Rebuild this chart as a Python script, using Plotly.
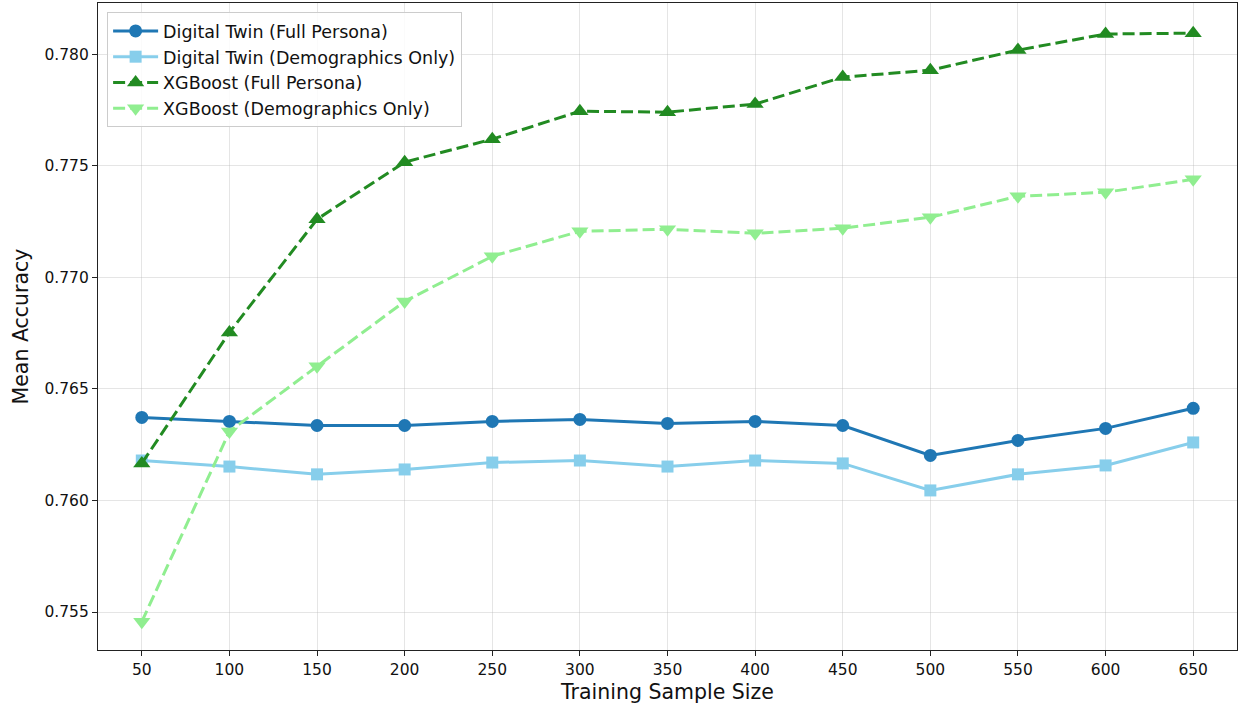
import plotly.graph_objects as go

sizes = [50, 100, 150, 200, 250, 300, 350, 400, 450, 500, 550, 600, 650]
dt_full = [0.76372, 0.76354, 0.76336, 0.76336, 0.76354, 0.76363, 0.76345, 0.76354, 0.76336, 0.76202, 0.76269, 0.76323, 0.76413]
dt_demo = [0.76179, 0.76152, 0.76117, 0.76139, 0.76170, 0.76179, 0.76152, 0.76179, 0.76166, 0.76045, 0.76117, 0.76157, 0.76260]
xgb_full = [0.76166, 0.76753, 0.77260, 0.77516, 0.77619, 0.77744, 0.77740, 0.77776, 0.77897, 0.77928, 0.78018, 0.78090, 0.78094]
xgb_demo = [0.75457, 0.76309, 0.76601, 0.76892, 0.77094, 0.77206, 0.77215, 0.77197, 0.77220, 0.77269, 0.77363, 0.77381, 0.77439]

series = [
    ("Digital Twin (Full Persona)", dt_full, "#1f77b4", "solid", "circle", 13),
    ("Digital Twin (Demographics Only)", dt_demo, "#87ceeb", "solid", "square", 12),
    ("XGBoost (Full Persona)", xgb_full, "#228b22", "12px,5px", "triangle-up", 15),
    ("XGBoost (Demographics Only)", xgb_demo, "#90ee90", "12px,5px", "triangle-down", 15),
]

fig = go.Figure()
for name, vals, color, dash, sym, ms in series:
    fig.add_trace(go.Scatter(
        x=sizes, y=vals, name=name, mode="lines+markers",
        line=dict(color=color, width=3, dash=dash),
        marker=dict(symbol=sym, size=ms, color=color),
    ))

axis_common = dict(
    showline=True, linecolor="#222", linewidth=1.2, mirror=True,
    showgrid=True, gridcolor="rgba(180,180,180,0.35)", gridwidth=1,
    ticks="outside", ticklen=5, tickcolor="#222", zeroline=False,
    tickfont=dict(family="DejaVu Sans", size=15.5, color="#111"),
)

fig.update_layout(
    width=1238, height=706,
    margin=dict(l=98, r=1, t=3, b=56),
    plot_bgcolor="white", paper_bgcolor="white",
    font=dict(family="DejaVu Sans", color="#111"),
    xaxis=dict(range=[25, 675], tickvals=sizes, ticktext=[str(s) for s in sizes],
               title=dict(text="Training Sample Size", font=dict(size=20.5), standoff=6), **axis_common),
    yaxis=dict(range=[0.7533, 0.78229], tickvals=[0.755, 0.760, 0.765, 0.770, 0.775, 0.780],
               tickformat=".3f",
               title=dict(text="Mean Accuracy", font=dict(size=20.5), standoff=10), **axis_common),
    legend=dict(x=0.008, y=0.986, xanchor="left", yanchor="top",
                bgcolor="rgba(255,255,255,0.85)", bordercolor="#ccc", borderwidth=1,
                font=dict(family="DejaVu Sans", size=17.5), itemwidth=45, tracegroupgap=0),
    showlegend=True,
)

fig.write_html("out.html")
